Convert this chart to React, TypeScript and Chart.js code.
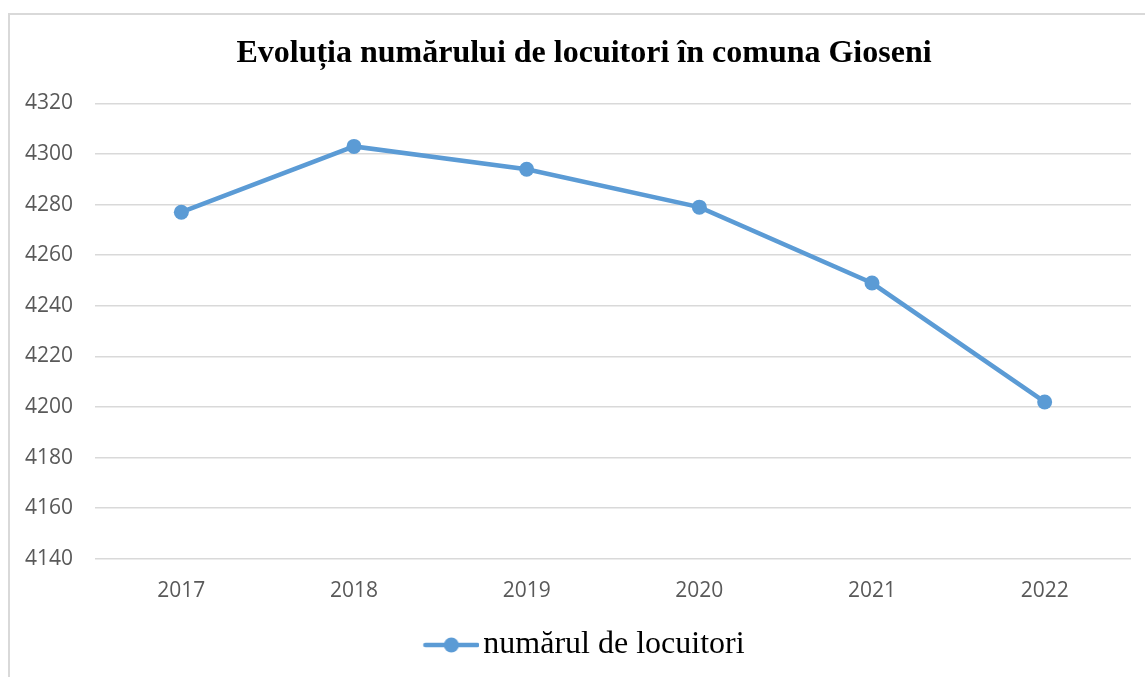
import React, { useEffect, useRef } from "react";
import { Chart, registerables } from "chart.js";

Chart.register(...registerables);

const TITLE = "Evoluția numărului de locuitori în comuna Gioseni";
const SERIES_LABEL = "numărul de locuitori";
const YEARS = ["2017", "2018", "2019", "2020", "2021", "2022"];
const POPULATION = [4277, 4303, 4294, 4279, 4249, 4202];
const Y_MIN = 4140;
const Y_MAX = 4320;
const Y_STEP = 20;

const BLUE = "#5b9bd5";
const GRID = "#d9d9d9";
const TICK = "#595959";
const SERIF = "'Liberation Serif', 'Times New Roman', serif";
const SANS = "'Open Sans', 'Noto Sans', sans-serif";

function makeLegendIcon(): HTMLCanvasElement {
  const c = document.createElement("canvas");
  c.width = 68;
  c.height = 18;
  const ctx = c.getContext("2d")!;
  ctx.strokeStyle = BLUE;
  ctx.lineWidth = 4.5;
  ctx.lineCap = "round";
  ctx.beginPath();
  ctx.moveTo(14, 9);
  ctx.lineTo(66, 9);
  ctx.stroke();
  ctx.fillStyle = BLUE;
  ctx.beginPath();
  ctx.arc(40, 9, 7.5, 0, Math.PI * 2);
  ctx.fill();
  return c;
}

export default function App() {
  const ref = useRef<HTMLCanvasElement | null>(null);

  useEffect(() => {
    if (!ref.current) return;
    const icon = makeLegendIcon();
    const chart = new Chart(ref.current, {
      type: "line",
      data: {
        labels: YEARS,
        datasets: [
          {
            label: SERIES_LABEL,
            data: POPULATION,
            yAxisID: "y",
            borderColor: BLUE,
            backgroundColor: BLUE,
            borderWidth: 4.5,
            pointStyle: "circle",
            pointRadius: 7.5,
            pointHoverRadius: 7.5,
            pointBackgroundColor: BLUE,
            pointBorderColor: BLUE,
            pointBorderWidth: 0,
            tension: 0,
          },
        ],
      },
      options: {
        responsive: false,
        animation: false,
        layout: { padding: { left: 15, right: 34, top: 0, bottom: 24 } },
        plugins: {
          title: {
            display: true,
            text: TITLE,
            color: "#000000",
            font: { family: SERIF, size: 32, weight: "bold", lineHeight: 1.2 },
            padding: { top: 20, bottom: 30 },
          },
          legend: {
            display: true,
            position: "bottom",
            labels: {
              color: "#000000",
              font: { family: SERIF, size: 32 },
              usePointStyle: true,
              pointStyleWidth: 44,
              padding: 5,
              generateLabels: () => [
                {
                  text: SERIES_LABEL,
                  pointStyle: icon as any,
                  fillStyle: BLUE,
                  strokeStyle: BLUE,
                  lineWidth: 0,
                  hidden: false,
                  datasetIndex: 0,
                } as any,
              ],
            },
          },
          tooltip: { enabled: false },
        },
        scales: {
          x: {
            offset: true,
            grid: { display: false, drawTicks: false },
            border: { display: false },
            ticks: {
              color: TICK,
              font: { family: SANS, size: 21 },
              padding: 20,
            },
          },
          y: {
            min: Y_MIN,
            max: Y_MAX,
            grid: { color: GRID, lineWidth: 1.5, drawTicks: false },
            border: { display: false },
            afterFit: (scale: any) => {
              scale.width = 70;
            },
            ticks: {
              stepSize: Y_STEP,
              color: TICK,
              font: { family: SANS, size: 21 },
              padding: 22,
              callback: (v: any) => String(v),
            },
          },
          yRight: {
            type: "linear",
            position: "right",
            display: true,
            grid: { display: false, drawTicks: false },
            border: { display: false },
            ticks: { display: false },
            afterFit: (scale: any) => {
              scale.width = 12;
            },
          },
        },
      },
    });
    return () => chart.destroy();
  }, []);

  return (
    <div style={{ position: "absolute", left: 0, top: 0, width: 1145, height: 677, overflow: "hidden", background: "#fff" }}>
      <div
        style={{
          position: "absolute",
          left: 8,
          top: 13,
          width: 1167,
          height: 680,
          border: `2px solid ${GRID}`,
          background: "#fff",
        }}
      >
        <canvas ref={ref} width={1167} height={680} style={{ display: "block" }} />
      </div>
    </div>
  );
}
